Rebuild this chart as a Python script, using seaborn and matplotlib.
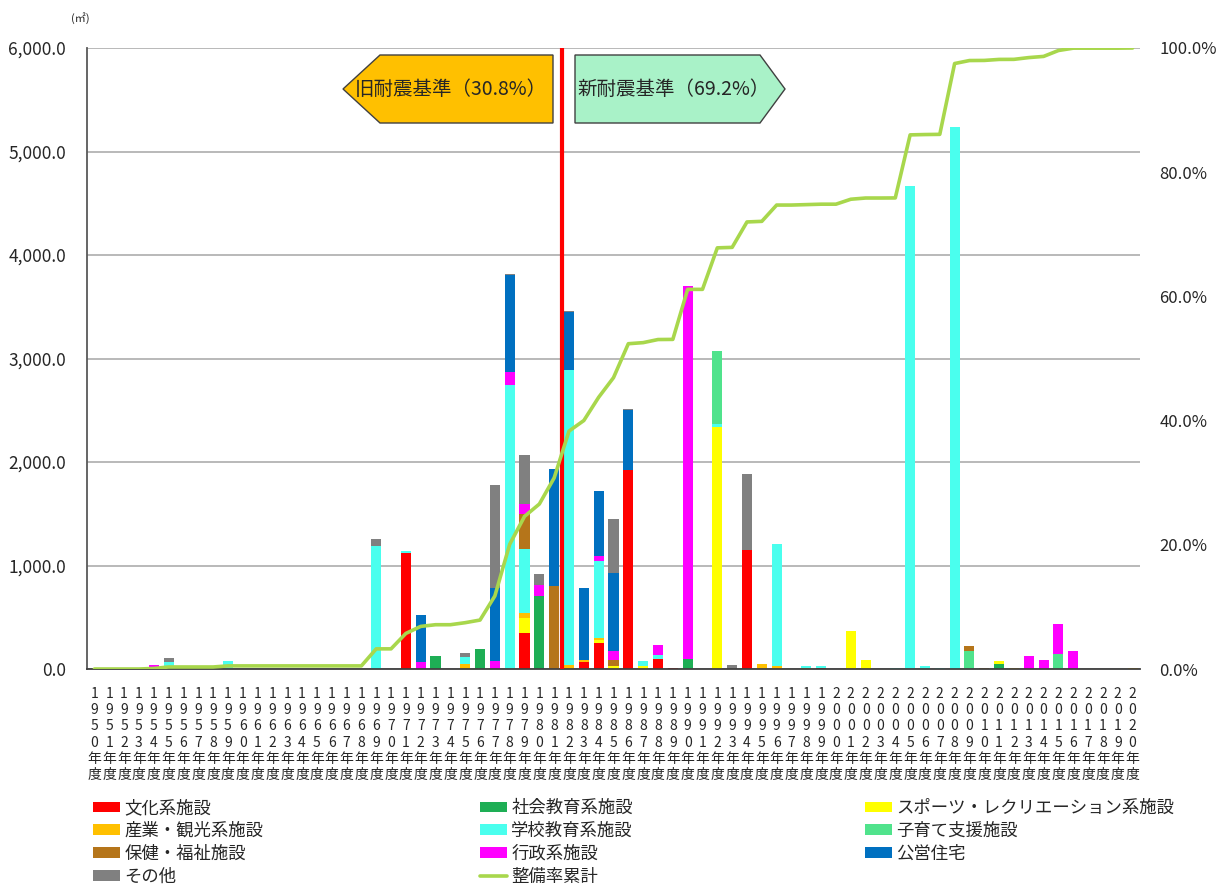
import numpy as np
import pandas as pd
import matplotlib
matplotlib.use("Agg")
import matplotlib.pyplot as plt
from matplotlib.patches import Polygon, Patch
from matplotlib.lines import Line2D
import seaborn as sns

# ---- data: floor area (m2) built per fiscal year, by facility type ----
years = list(range(1950, 2021))

bunka = {1971: 1125, 1979: 350, 1983: 70, 1984: 250, 1986: 1920, 1988: 100,
         1989: 10, 1994: 1150, 1999: 10}
shakai = {1973: 125, 1976: 195, 1980: 710, 1990: 95, 2011: 45}
sports = {1979: 145, 1984: 30, 1985: 25, 1987: 25, 1992: 2335, 2001: 366,
          2002: 90, 2011: 30}
sangyo = {1975: 50, 1979: 50, 1982: 40, 1983: 15, 1984: 15, 1995: 45,
          1996: 30, 1998: 10, 2012: 5, 2020: 12}
gakko = {1955: 70, 1959: 80, 1969: 1190, 1971: 15, 1975: 70, 1978: 2740,
         1979: 610, 1982: 2845, 1984: 750, 1987: 55, 1988: 40, 1992: 30,
         1996: 1175, 1998: 22, 1999: 22, 2004: 6, 2005: 4663, 2006: 25,
         2007: 14, 2008: 5237}
kosodate = {1992: 705, 2009: 178, 2015: 146}
hoken = {1979: 345, 1981: 805, 1985: 60, 2009: 44, 2010: 8}
gyosei = {1954: 40, 1972: 70, 1977: 75, 1978: 130, 1979: 95, 1980: 100,
          1984: 50, 1985: 85, 1988: 90, 1990: 3605, 2013: 130, 2014: 87,
          2015: 290, 2016: 174}
koei = {1972: 450, 1977: 705, 1978: 935, 1981: 1130, 1982: 565, 1983: 695,
        1984: 625, 1985: 755, 1986: 580}
sonota = {1955: 40, 1969: 70, 1975: 30, 1977: 1000, 1978: 15, 1979: 470,
          1980: 105, 1982: 10, 1985: 525, 1986: 10, 1993: 35, 1994: 730}

categories = ["文化系施設", "社会教育系施設", "スポーツ・レクリエーション系施設",
              "産業・観光系施設", "学校教育系施設", "子育て支援施設",
              "保健・福祉施設", "行政系施設", "公営住宅", "その他"]
series = [bunka, shakai, sports, sangyo, gakko, kosodate, hoken, gyosei, koei, sonota]
colors = ["#FF0000", "#1EAE55", "#FFFF00", "#FFC000", "#4AFFEE", "#50E38C",
          "#B5751A", "#FF00FF", "#0070C0", "#808080"]
line_label = "整備率累計"
line_color = "#A8D74C"
old_label = "旧耐震基準（30.8%）"
new_label = "新耐震基準（69.2%）"

# long-format table for seaborn
rows = []
for cat, s in zip(categories, series):
    for y in years:
        rows.append((y, cat, s.get(y, 0)))
df = pd.DataFrame(rows, columns=["year", "category", "area"])

annual = df.groupby("year")["area"].sum().reindex(years)
cum_rate = annual.cumsum() / annual.sum()

# ---- figure ----
sns.set_style("white")
plt.rcParams["font.family"] = ["Noto Sans CJK JP", "DejaVu Sans"]

W, H = 1220, 885
fig = plt.figure(figsize=(W / 100, H / 100), dpi=100)
L, R, T, B = 87, 1140, 48, 669
ax = fig.add_axes([L / W, 1 - B / H, (R - L) / W, (B - T) / H])

palette = dict(zip(categories, colors))
sns.histplot(data=df, x="year", weights="area", hue="category",
             hue_order=categories[::-1], palette=palette, multiple="stack",
             discrete=True, shrink=0.68, linewidth=0, alpha=1, legend=False,
             ax=ax, zorder=2)

ax.set_xlim(years[0] - 0.5, years[-1] + 0.5)
ax.set_ylim(0, 6000)
ax.set_yticks(np.arange(0, 6001, 1000))
ax.set_yticklabels([f"{v:,.1f}" for v in np.arange(0, 6001, 1000)], fontsize=12.5)
ax.set_xticks(years)
ax.set_xticklabels(["\n".join(str(y) + "年度") for y in years],
                   fontsize=10, linespacing=1.2, va="top")
ax.tick_params(axis="x", length=0, pad=13)
ax.tick_params(axis="y", length=0, pad=15)
ax.set_xlabel("")
ax.set_ylabel("")
ax.yaxis.grid(True, color="#A6A6A6", linewidth=1.1, zorder=0)
ax.set_axisbelow(True)
for side in ["top", "right"]:
    ax.spines[side].set_visible(False)
ax.spines["left"].set_color("#595959")
ax.spines["left"].set_linewidth(1.3)
ax.spines["bottom"].set_color("#404040")
ax.spines["bottom"].set_linewidth(1.3)

# boundary between old and new seismic standards
ax.axvline(1981.5, color="#FF0000", linewidth=3, zorder=3)

# cumulative rate on the secondary axis
ax2 = ax.twinx()
sns.lineplot(x=years, y=cum_rate.values, ax=ax2, color=line_color,
             linewidth=2.6, zorder=4)
ax2.set_ylim(0, 1)
ax2.set_yticks(np.arange(0, 1.01, 0.2))
ax2.set_yticklabels([f"{v * 100:.1f}%" for v in np.arange(0, 1.01, 0.2)], fontsize=12)
ax2.tick_params(axis="y", length=0, pad=14)
for side in ["top", "right", "left", "bottom"]:
    ax2.spines[side].set_visible(False)

# unit label
fig.text(80 / W, 1 - 18 / H, "(㎡)", fontsize=8, ha="center", va="center")

# arrow-shaped labels
def px(x, y):
    return ((x - L) / (R - L), (B - y) / (B - T))

left_shape = [px(553, 55), px(380, 55), px(343, 89), px(380, 123), px(553, 123)]
right_shape = [px(575, 55), px(760, 55), px(785, 89), px(760, 123), px(575, 123)]
ax2.add_patch(Polygon(left_shape, closed=True, transform=ax2.transAxes,
                      facecolor="#FFC000", edgecolor="#404040", linewidth=1, zorder=6))
ax2.add_patch(Polygon(right_shape, closed=True, transform=ax2.transAxes,
                      facecolor="#A9F2C8", edgecolor="#404040", linewidth=1, zorder=6))
tx, ty = px(451, 89)
ax2.text(tx, ty, old_label, transform=ax2.transAxes, fontsize=14,
         ha="center", va="center", zorder=7)
tx, ty = px(674, 89)
ax2.text(tx, ty, new_label, transform=ax2.transAxes, fontsize=14,
         ha="center", va="center", zorder=7)

# legend: three columns laid out row by row
handles = [Patch(facecolor=c, edgecolor="none", label=n) for n, c in zip(categories, colors)]
line_handle = Line2D([], [], color=line_color, linewidth=2.6, label=line_label)
cols = [
    [handles[0], handles[3], handles[6], handles[9]],
    [handles[1], handles[4], handles[7], line_handle],
    [handles[2], handles[5], handles[8]],
]
col_x = [93, 480, 865]
for xpos, hs in zip(col_x, cols):
    fig.legend(handles=hs, loc="upper left", bbox_to_anchor=(xpos / W, 1 - 799 / H),
               frameon=False, fontsize=12.5, handlelength=1.55, handleheight=0.57,
               handletextpad=0.25, labelspacing=0.28, borderpad=0, borderaxespad=0)

fig.savefig("out.png", dpi=100)
